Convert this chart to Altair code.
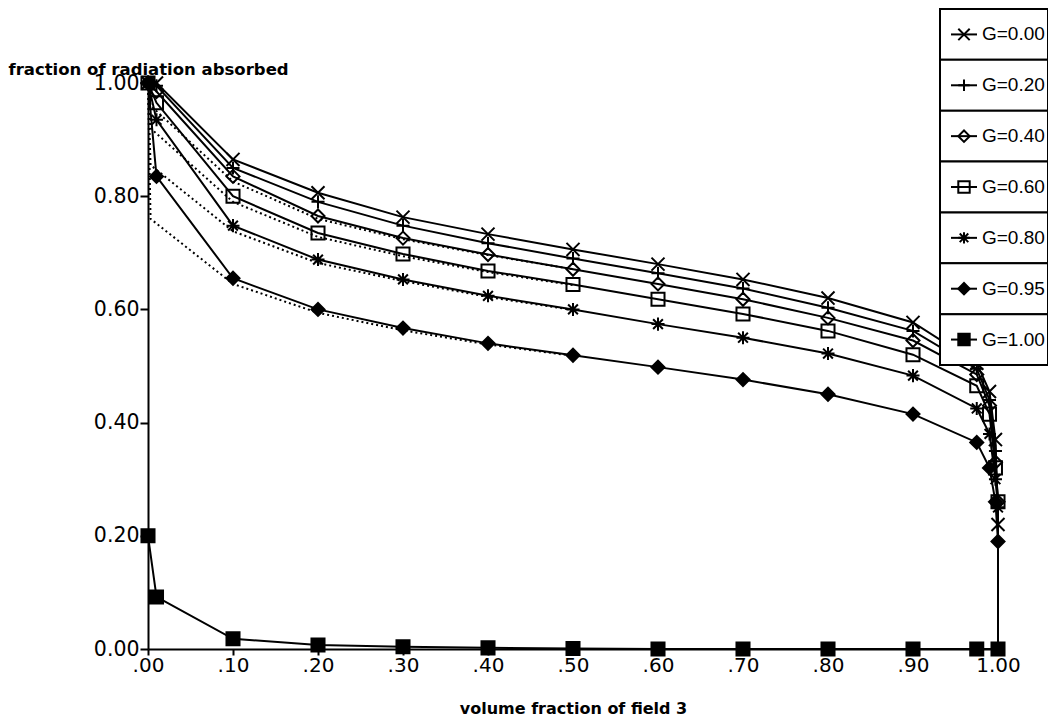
import altair as alt
import pandas as pd

# ---------------- data ----------------
LABELS = ["G=0.00", "G=0.20", "G=0.40", "G=0.60", "G=0.80", "G=0.95", "G=1.00"]

X_MAIN = [0.0, 0.01, 0.1, 0.2, 0.3, 0.4, 0.5, 0.6, 0.7, 0.8, 0.9, 0.975, 0.99, 0.997, 1.0]
G000 = [1.00, 1.00, 0.865, 0.806, 0.763, 0.733, 0.706, 0.680, 0.653, 0.620, 0.577, 0.505, 0.455, 0.37, 0.22]
G020 = [1.00, 0.995, 0.850, 0.790, 0.748, 0.717, 0.690, 0.664, 0.637, 0.603, 0.562, 0.495, 0.440, 0.35, 0.25]
G040 = [1.00, 0.985, 0.835, 0.765, 0.726, 0.697, 0.671, 0.645, 0.618, 0.585, 0.545, 0.485, 0.430, 0.33, 0.26]
G060 = [1.00, 0.965, 0.800, 0.735, 0.698, 0.668, 0.644, 0.618, 0.592, 0.562, 0.520, 0.465, 0.415, 0.32, 0.26]
G080 = [1.00, 0.935, 0.748, 0.688, 0.653, 0.624, 0.600, 0.574, 0.550, 0.522, 0.483, 0.425, 0.380, 0.30, 0.25]
G095 = [1.00, 0.835, 0.655, 0.600, 0.567, 0.540, 0.519, 0.498, 0.476, 0.450, 0.415, 0.365, 0.320, 0.26, 0.19]

X_G100 = [0.0, 0.01, 0.1, 0.2, 0.3, 0.4, 0.5, 0.6, 0.7, 0.8, 0.9, 0.975, 1.0]
G100 = [0.20, 0.092, 0.018, 0.007, 0.004, 0.002, 0.001, 0.0, 0.0, 0.0, 0.0, 0.0, 0.0]

# every curve falls to zero at x = 1
X_DROP = 1.0
Y_DROP = 0.0

# dotted companion curves (no markers)
X_DOT = [0.0, 0.003, 0.1, 0.2, 0.3, 0.4, 0.5]
DOT_A = [1.00, 0.960, 0.826, 0.760, 0.724, 0.696, 0.671]
DOT_B = [1.00, 0.920, 0.790, 0.728, 0.694, 0.666, 0.643]
DOT_C = [1.00, 0.855, 0.738, 0.682, 0.650, 0.622, 0.599]
DOT_D = [1.00, 0.760, 0.645, 0.594, 0.563, 0.538, 0.518]

X_TICKS = [0.0, 0.1, 0.2, 0.3, 0.4, 0.5, 0.6, 0.7, 0.8, 0.9, 1.0]
Y_TICKS = [0.0, 0.2, 0.4, 0.6, 0.8, 1.0]

# ---------------- tables ----------------
SERIES = {
    "G=0.00": (X_MAIN, G000),
    "G=0.20": (X_MAIN, G020),
    "G=0.40": (X_MAIN, G040),
    "G=0.60": (X_MAIN, G060),
    "G=0.80": (X_MAIN, G080),
    "G=0.95": (X_MAIN, G095),
    "G=1.00": (X_G100, G100),
}
pts_rows, line_rows = [], []
for g, (xs, ys) in SERIES.items():
    for i, (xv, yv) in enumerate(zip(xs, ys)):
        pts_rows.append({"G": g, "x": xv, "y": yv, "i": i})
        line_rows.append({"G": g, "x": xv, "y": yv, "i": i})
    line_rows.append({"G": g, "x": X_DROP, "y": Y_DROP, "i": len(xs)})
pts = pd.DataFrame(pts_rows)
lines = pd.DataFrame(line_rows)

dot_rows = []
for name, ys in zip(["a", "b", "c", "d"], [DOT_A, DOT_B, DOT_C, DOT_D]):
    for i, (xv, yv) in enumerate(zip(X_DOT, ys)):
        dot_rows.append({"D": name, "x": xv, "y": yv, "i": i})
dots = pd.DataFrame(dot_rows)

legend_df = pd.DataFrame({"G": LABELS})

X_PATH = "M-1,-1L1,1M-1,1L1,-1"
PLUS_PATH = "M-1,0L1,0M0,-1L0,1"
STAR_PATH = "M-1,0L1,0M0,-1L0,1M-0.75,-0.75L0.75,0.75M-0.75,0.75L0.75,-0.75"
SHAPES = [X_PATH, PLUS_PATH, "diamond", "square", STAR_PATH, "diamond", "square"]
FILLS = ["transparent", "transparent", "transparent", "transparent", "transparent", "black", "black"]

FONT = "DejaVu Sans"
shape_enc = alt.Shape("G:N", scale=alt.Scale(domain=LABELS, range=SHAPES), legend=None)
fill_enc = alt.Fill("G:N", scale=alt.Scale(domain=LABELS, range=FILLS), legend=None)

x_scale = alt.Scale(domain=[0, 1], nice=False, zero=False)
y_scale = alt.Scale(domain=[0, 1], nice=False)

x_enc = alt.X(
    "x:Q",
    scale=x_scale,
    axis=alt.Axis(
        values=X_TICKS,
        labelExpr="datum.value == 1 ? '1.00' : replace(format(datum.value, '.2f'), '0.', '.')",
        title="volume fraction of field 3",
        titleFont=FONT, titleFontSize=16, titleFontWeight="bold",
        titleY=64, titleBaseline="alphabetic",
        labelFont=FONT, labelFontSize=20, labelColor="black",
        tickSize=6, tickWidth=2, tickColor="black",
        domainColor="black", domainWidth=2, labelPadding=0,
        grid=False, labelFlush=False,
    ),
)
y_enc = alt.Y(
    "y:Q",
    scale=y_scale,
    axis=alt.Axis(
        values=Y_TICKS, format=".2f",
        title="fraction of radiation absorbed",
        titleFont=FONT, titleFontSize=16.5, titleFontWeight="bold",
        titleAngle=0, titleAlign="left", titleBaseline="alphabetic",
        titleX=-140, titleY=-9,
        labelFont=FONT, labelFontSize=20.5, labelColor="black",
        tickSize=8, tickWidth=2, tickColor="black",
        domainColor="black", domainWidth=2, labelPadding=1,
        grid=False, labelFlush=False,
    ),
)

line_layer = alt.Chart(lines).mark_line(color="black", strokeWidth=2).encode(
    x=x_enc, y=y_enc, detail="G:N", order="i:Q"
)
dot_layer = alt.Chart(dots).mark_line(color="black", strokeWidth=2, strokeDash=[2, 3]).encode(
    x=alt.X("x:Q", scale=x_scale), y=alt.Y("y:Q", scale=y_scale), detail="D:N", order="i:Q"
)
point_layer = alt.Chart(pts).mark_point(
    stroke="black", strokeWidth=2, size=170, opacity=1, fillOpacity=1
).encode(x=alt.X("x:Q", scale=x_scale), y=alt.Y("y:Q", scale=y_scale), shape=shape_enc, fill=fill_enc)

main = alt.layer(line_layer, dot_layer, point_layer)

# ---------------- boxed legend ----------------
def leg_y(center):
    return alt.Y(
        "G:N",
        scale=alt.Scale(domain=LABELS, range=[-74, 282], paddingInner=0, paddingOuter=0),
        axis=None,
        bandPosition=0.5 if center else 0,
    )

leg_box = alt.Chart(legend_df).mark_rect(fill="white", stroke="black", strokeWidth=2).encode(
    x=alt.value(792), x2=alt.value(900), y=alt.Y("G:N", scale=alt.Scale(domain=LABELS, range=[-74, 282], paddingInner=0, paddingOuter=0), axis=None)
)
leg_line = alt.Chart(legend_df).mark_rule(color="black", strokeWidth=2).encode(
    x=alt.value(803), x2=alt.value(829), y=leg_y(True)
)
leg_sym = alt.Chart(legend_df).mark_point(
    stroke="black", strokeWidth=2, size=130, opacity=1, fillOpacity=1
).encode(x=alt.value(816), y=leg_y(True), shape=shape_enc, fill=fill_enc)
leg_text = alt.Chart(legend_df).mark_text(
    align="left", baseline="middle", font="Liberation Sans", fontSize=19, color="black"
).encode(x=alt.value(834), y=leg_y(True), text="G:N")

legend = alt.layer(leg_box, leg_line, leg_sym, leg_text)

chart = alt.layer(main, legend).resolve_scale(y="independent").properties(
    width=850, height=566,
    autosize="none",
    padding={"left": 140, "top": 75, "right": 50, "bottom": 70},
    background="white",
).configure_view(stroke=None)

chart.save("out.html", embed_options={"renderer": "svg", "actions": False})
